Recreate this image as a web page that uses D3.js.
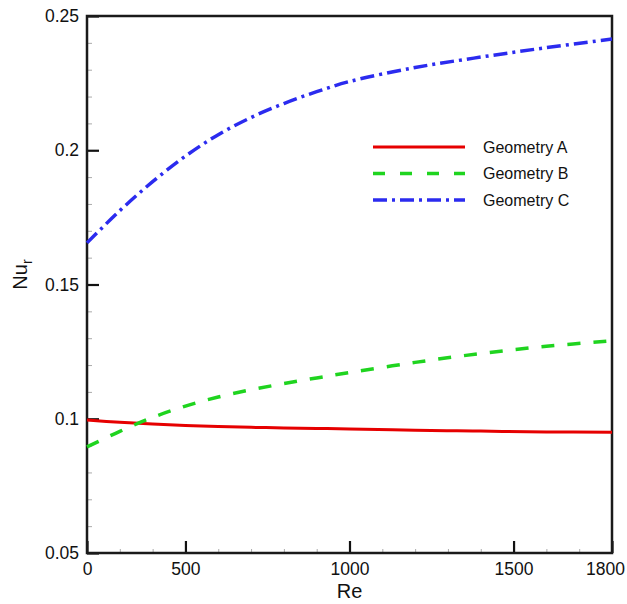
<!DOCTYPE html>
<html>
<head>
<meta charset="utf-8">
<script src="https://cdn.jsdelivr.net/npm/d3@7/dist/d3.min.js"></script>
<style>
  body { margin: 0; background: #fff; }
  svg { font-family: "Liberation Sans", Arial, Helvetica, sans-serif; }
</style>
</head>
<body>
<div id="chart"></div>
<script>
// Reynolds numbers (first position is labelled "0" on the axis)
var reValues = [200, 300, 400, 500, 600, 700, 800, 900, 1000, 1200, 1400, 1600, 1800];

var geometryA = [0.0995, 0.0987, 0.0980, 0.0975, 0.0971, 0.0968, 0.0966, 0.0964, 0.0962, 0.0957, 0.0954, 0.0951, 0.0950];
var geometryB = [0.0895, 0.0953, 0.1005, 0.1047, 0.1081, 0.1108, 0.1131, 0.1152, 0.1172, 0.1210, 0.1243, 0.1270, 0.1290];
var geometryC = [0.1655, 0.1775, 0.1883, 0.1978, 0.2058, 0.2122, 0.2174, 0.2218, 0.2256, 0.2308, 0.2347, 0.2382, 0.2414];

var seriesNames = ["Geometry A", "Geometry B", "Geometry C"];

var xTickValues = [200, 500, 1000, 1500, 1800];
var xTickLabels = ["0", "500", "1000", "1500", "1800"];
var yTickValues = [0.05, 0.1, 0.15, 0.2, 0.25];
var yTickLabels = ["0.05", "0.1", "0.15", "0.2", "0.25"];

var margin = {top: 16, right: 15, bottom: 51, left: 87},
    width = 627 - margin.left - margin.right,
    height = 604 - margin.top - margin.bottom;

var svg = d3.select("#chart")
  .append("svg")
  .attr("width", 627)
  .attr("height", 604)
  .append("g")
  .attr("transform", "translate(" + margin.left + "," + margin.top + ")");

var x = d3.scaleLinear().domain([200, 1800]).range([0, width]);
var y = d3.scaleLinear().domain([0.05, 0.25]).range([height, 0]);

// minor ticks (every 100 on Re, every 0.01 on Nu)
var xMinor = d3.range(300, 1800, 100).filter(v => xTickValues.indexOf(v) < 0);
var yMinor = d3.range(6, 25).map(v => v / 100).filter(v => v % 0.05 > 0.001 && v % 0.05 < 0.049);

svg.append("g")
  .attr("transform", "translate(0," + height + ")")
  .call(d3.axisBottom(x).tickValues(xMinor).tickSize(-4).tickFormat(""))
  .call(g => g.select(".domain").remove())
  .selectAll("line").attr("stroke", "#aaa");

svg.append("g")
  .call(d3.axisLeft(y).tickValues(yMinor).tickSize(-5).tickFormat(""))
  .call(g => g.select(".domain").remove())
  .selectAll("line").attr("stroke", "#aaa");

// major axes
var xAxis = svg.append("g")
  .attr("transform", "translate(0," + height + ")")
  .call(d3.axisBottom(x)
    .tickValues(xTickValues)
    .tickSizeInner(-12).tickSizeOuter(0)
    .tickPadding(10)
    .tickFormat((d, i) => xTickLabels[i]));
xAxis.select(".domain").remove();
xAxis.selectAll("line").attr("stroke", "#111").attr("stroke-width", 2.2);
xAxis.selectAll("text")
  .attr("font-size", 17.5)
  .attr("fill", "#111")
  .attr("dx", (d, i) => i === xTickValues.length - 1 ? -7 : 0);

var yAxis = svg.append("g")
  .call(d3.axisLeft(y)
    .tickValues(yTickValues)
    .tickSizeInner(-12).tickSizeOuter(0)
    .tickPadding(8)
    .tickFormat((d, i) => yTickLabels[i]));
yAxis.select(".domain").remove();
yAxis.selectAll("line").attr("stroke", "#111").attr("stroke-width", 2.2);
yAxis.selectAll("text").attr("font-size", 17.5).attr("fill", "#111");

// frame
svg.append("rect")
  .attr("x", 0).attr("y", 0)
  .attr("width", width).attr("height", height)
  .attr("fill", "none")
  .attr("stroke", "#1a1a1a")
  .attr("stroke-width", 2.5);

// curves
var colors = ["#e60000", "#1fd41f", "#2b2bef"];
var dashes = [null, "13,13", "14,5,3,5"];
var widths = [3, 3.5, 3.5];
var allSeries = [geometryA, geometryB, geometryC];

var line = d3.line()
  .x((d, i) => x(reValues[i]))
  .y(d => y(d))
  .curve(d3.curveCatmullRom.alpha(0.5));

svg.selectAll(".curve")
  .data(allSeries)
  .enter()
  .append("path")
  .attr("class", "curve")
  .attr("d", d => line(d))
  .attr("fill", "none")
  .attr("stroke", (d, i) => colors[i])
  .attr("stroke-width", (d, i) => widths[i])
  .attr("stroke-dasharray", (d, i) => dashes[i]);

// legend
var legend = svg.append("g")
  .attr("transform", "translate(286,131)");

var rows = legend.selectAll("g")
  .data(seriesNames)
  .enter()
  .append("g")
  .attr("transform", (d, i) => "translate(0," + (i * 26.5) + ")");

rows.append("line")
  .attr("x1", 0).attr("x2", 92)
  .attr("y1", 0).attr("y2", 0)
  .attr("stroke", (d, i) => colors[i])
  .attr("stroke-width", (d, i) => widths[i])
  .attr("stroke-dasharray", (d, i) => i === 1 ? "12,15" : dashes[i]);

rows.append("text")
  .attr("x", 110)
  .attr("y", 0)
  .attr("dy", "0.35em")
  .attr("font-size", 16)
  .attr("fill", "#111")
  .text(d => d);

// axis titles
svg.append("text")
  .attr("x", x(1000))
  .attr("y", height + 45)
  .attr("text-anchor", "middle")
  .attr("font-size", 20)
  .attr("fill", "#111")
  .text("Re");

var yTitle = svg.append("text")
  .attr("transform", "translate(" + (27 - margin.left) + "," + (y(0.15) - 10) + ") rotate(-90)")
  .attr("text-anchor", "middle")
  .attr("font-size", 20)
  .attr("fill", "#111");
yTitle.append("tspan").text("Nu");
yTitle.append("tspan").attr("font-size", 14).attr("dy", 5).text("r");
</script>
</body>
</html>
